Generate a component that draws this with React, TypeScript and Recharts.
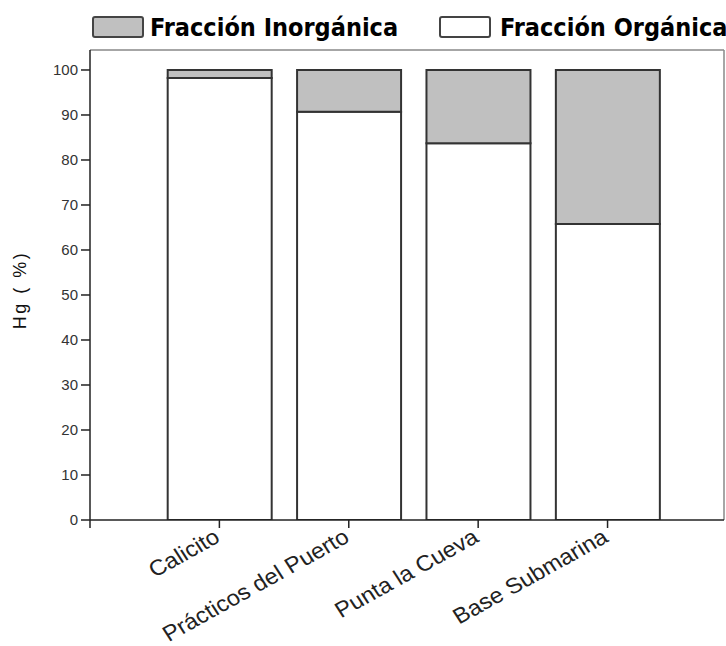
import React from 'react';
import { BarChart, Bar, XAxis, YAxis, ReferenceLine } from 'recharts';

const categories = ['Calicito', 'Prácticos del Puerto', 'Punta la Cueva', 'Base Submarina'];
const positions = [1, 2, 3, 4];
const organica = [98.2, 90.7, 83.7, 65.8];
const inorganica = [1.8, 9.3, 16.3, 34.2];
const yTicks = [0, 10, 20, 30, 40, 50, 60, 70, 80, 90, 100];
const xTicks = [0, 1, 2, 3, 4];
const legendLabels = ['Fracción Inorgánica', 'Fracción Orgánica'];

const data = categories.map((name, i) => ({
  x: positions[i],
  name,
  org: organica[i],
  inorg: inorganica[i],
}));

const X_MAX = 4.9;
const Y_MAX = 104.44;
const FONT = '"Liberation Sans", Arial, sans-serif';
const LEGEND_FONT = '"DejaVu Sans Condensed", "DejaVu Sans", sans-serif';

const XTick = (props: any) => {
  const { x, y, payload } = props;
  const idx = positions.indexOf(payload.value);
  if (idx < 0) return null;
  return (
    <g transform={`translate(${x + 2},${y + 11})`}>
      <text
        x={0}
        y={0}
        textAnchor="end"
        transform="scale(1.08,1) rotate(-31)"
        fontSize={22}
        fontFamily={FONT}
        fill="#222"
      >
        {categories[idx]}
      </text>
    </g>
  );
};

const YLabel = () => {
  return (
    <text
      x={20}
      y={290}
      transform="rotate(-90, 20, 290)"
      textAnchor="middle"
      dominantBaseline="central"
      fontSize={18}
      letterSpacing={2.5}
      fontFamily={FONT}
      fill="#111"
    >
      Hg ( %)
    </text>
  );
};

const LegendOverlay = () => (
  <svg width={726} height={48} style={{ position: 'absolute', left: 0, top: 0 }}>
    <rect x={93} y={17} width={50} height={20} rx={2} fill="#c0c0c0" stroke="#444" strokeWidth={2} />
    <text x={150} y={36} fontFamily={LEGEND_FONT} fontWeight="bold" fontSize={25} fill="#000">
      {legendLabels[0]}
    </text>
    <rect x={440} y={17} width={50} height={20} rx={2} fill="#fff" stroke="#444" strokeWidth={2} />
    <text x={500} y={36} fontFamily={LEGEND_FONT} fontWeight="bold" fontSize={25} fill="#000">
      {legendLabels[1]}
    </text>
  </svg>
);

export default function App() {
  return (
    <div style={{ position: 'absolute', left: 0, top: 0, width: 726, height: 646, background: '#fff' }}>
      <BarChart
        width={726}
        height={646}
        data={data}
        margin={{ top: 50, right: 2, left: 0, bottom: 0 }}
        barGap={0}
      >
        <XAxis
          dataKey="x"
          type="number"
          domain={[0, X_MAX]}
          ticks={xTicks}
          allowDataOverflow
          height={126}
          tickSize={8}
          tick={<XTick />}
          interval={0}
          axisLine={{ stroke: '#222', strokeWidth: 1.5 }}
          tickLine={{ stroke: '#222', strokeWidth: 1.5 }}
        />
        <YAxis
          type="number"
          domain={[0, Y_MAX]}
          ticks={yTicks}
          allowDataOverflow
          width={90}
          tickSize={9}
          tickMargin={3}
          interval={0}
          tick={{ fontSize: 15, fill: '#333', fontFamily: FONT }}
          axisLine={{ stroke: '#222', strokeWidth: 1.5 }}
          tickLine={{ stroke: '#222', strokeWidth: 1.5 }}
          label={<YLabel />}
        />
        <ReferenceLine y={Y_MAX} stroke="#888" strokeWidth={1.5} ifOverflow="extendDomain" />
        <ReferenceLine x={X_MAX} stroke="#888" strokeWidth={1.5} ifOverflow="extendDomain" />
        <Bar
          dataKey="org"
          stackId="a"
          barSize={104}
          fill="#ffffff"
          stroke="#333"
          strokeWidth={2}
          isAnimationActive={false}
        />
        <Bar
          dataKey="inorg"
          stackId="a"
          barSize={104}
          fill="#c0c0c0"
          stroke="#333"
          strokeWidth={2}
          isAnimationActive={false}
        />
      </BarChart>
      <LegendOverlay />
    </div>
  );
}
